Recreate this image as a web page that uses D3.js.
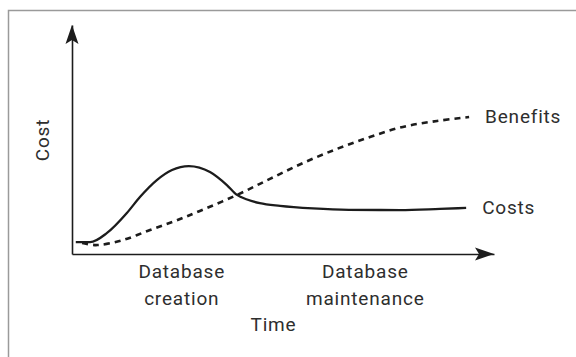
<!DOCTYPE html>
<html>
<head>
<meta charset="utf-8">
<script src="https://cdn.jsdelivr.net/npm/d3@7"></script>
<style>
  body { margin: 0; background: #fff; }
  text { font-family: Roboto, "DejaVu Sans", sans-serif; fill: #2e2e2e; }
</style>
</head>
<body>
<svg id="chart" width="576" height="357"></svg>
<script>
// DATA
const costTime = [0.09, 0.43, 0.83, 1.30, 1.61, 2.01, 2.37, 2.77, 3.27, 3.67, 3.91, 4.15, 4.45, 4.93, 5.71, 6.56, 7.77, 8.72, 9.34];
const costValue = [0.52, 0.52, 0.92, 1.79, 2.49, 3.23, 3.67, 3.84, 3.58, 3.01, 2.58, 2.38, 2.22, 2.10, 1.99, 1.93, 1.92, 1.97, 2.01];

const benefitTime = [0.24, 0.59, 1.21, 1.85, 2.44, 3.03, 3.91, 4.69, 5.47, 6.28, 7.06, 7.84, 8.65, 9.41];
const benefitValue = [0.48, 0.39, 0.61, 1.05, 1.44, 1.88, 2.58, 3.28, 3.97, 4.59, 5.11, 5.55, 5.81, 5.98];

const seriesNames = ["Costs", "Benefits"];
const phaseNames = [["Database", "creation"], ["Database", "maintenance"]];
const phaseMid = [2.6, 6.95];
const xTitle = "Time";
const yTitle = "Cost";

//SETUP
const svg = d3.select("#chart");

// grey frame
svg.append("rect")
  .attr("x", 8.5)
  .attr("y", 10.5)
  .attr("width", 620)
  .attr("height", 400)
  .attr("fill", "none")
  .attr("stroke", "#9a9a9a")
  .attr("stroke-width", 1.5);

const xScale = d3.scaleLinear().domain([0, 10]).range([72, 494]);
const yScale = d3.scaleLinear().domain([0, 10]).range([254, 25]);

const ink = "#1c1c1c";

// axes, no ticks, just the arrows
const xAxis = d3.axisBottom(xScale).tickValues([]).tickSizeOuter(0);
svg.append("g")
  .attr("class", "x-axis")
  .attr("transform", `translate(0,${yScale(0)})`)
  .call(xAxis);

const yAxis = d3.axisLeft(yScale).tickValues([]).tickSizeOuter(0);
svg.append("g")
  .attr("class", "y-axis")
  .attr("transform", `translate(${xScale(0)},0)`)
  .call(yAxis);

svg.selectAll(".domain")
  .attr("stroke", ink)
  .attr("stroke-width", 1.6);

// arrow heads
function arrowHead(x, y, angle) {
  svg.append("path")
    .attr("d", "M0,0 L-19,-6.5 L-15,0 L-19,6.5 Z")
    .attr("transform", `translate(${x},${y}) rotate(${angle})`)
    .attr("fill", ink);
}
arrowHead(xScale(10), yScale(0), 0);
arrowHead(xScale(0), yScale(10), -90);

// lines
const costs = costTime.map((t, i) => ({ t, v: costValue[i] }));
const benefits = benefitTime.map((t, i) => ({ t, v: benefitValue[i] }));

const line = d3.line()
  .x(d => xScale(d.t))
  .y(d => yScale(d.v));

svg.append("path")
  .datum(benefits)
  .attr("d", line.curve(d3.curveCatmullRom))
  .attr("fill", "none")
  .attr("stroke", ink)
  .attr("stroke-width", 2.6)
  .attr("stroke-dasharray", "6,5");

svg.append("path")
  .datum(costs)
  .attr("d", line.curve(d3.curveMonotoneX))
  .attr("fill", "none")
  .attr("stroke", ink)
  .attr("stroke-width", 2.3);

// series labels at the line ends
const ends = [costs[costs.length - 1], benefits[benefits.length - 1]];
svg.selectAll(".series-label")
  .data(seriesNames)
  .enter()
  .append("text")
  .attr("class", "series-label")
  .attr("x", (d, i) => xScale(ends[i].t) + 16)
  .attr("y", (d, i) => yScale(ends[i].v) + 6)
  .attr("font-size", "19px")
  .attr("letter-spacing", "0.8px")
  .text(d => d);

// phase labels
const phases = svg.selectAll(".phase")
  .data(phaseNames)
  .enter()
  .append("text")
  .attr("class", "phase")
  .attr("font-size", "19px")
  .attr("letter-spacing", "0.8px")
  .style("text-anchor", "middle");

phases.selectAll("tspan")
  .data((d, i) => d.map(s => ({ s, x: xScale(phaseMid[i]) })))
  .enter()
  .append("tspan")
  .attr("x", d => d.x)
  .attr("y", (d, j) => yScale(0) + 24 + j * 27)
  .text(d => d.s);

// axis titles
svg.append("text")
  .attr("x", (xScale(phaseMid[0]) + xScale(phaseMid[1])) / 2)
  .attr("y", yScale(0) + 77)
  .attr("font-size", "19px")
  .attr("letter-spacing", "0.8px")
  .style("text-anchor", "middle")
  .text(xTitle);

svg.append("text")
  .attr("transform", "rotate(-90)")
  .attr("x", -140)
  .attr("y", 49)
  .attr("font-size", "19px")
  .attr("letter-spacing", "0.8px")
  .style("text-anchor", "middle")
  .text(yTitle);
</script>
</body>
</html>
